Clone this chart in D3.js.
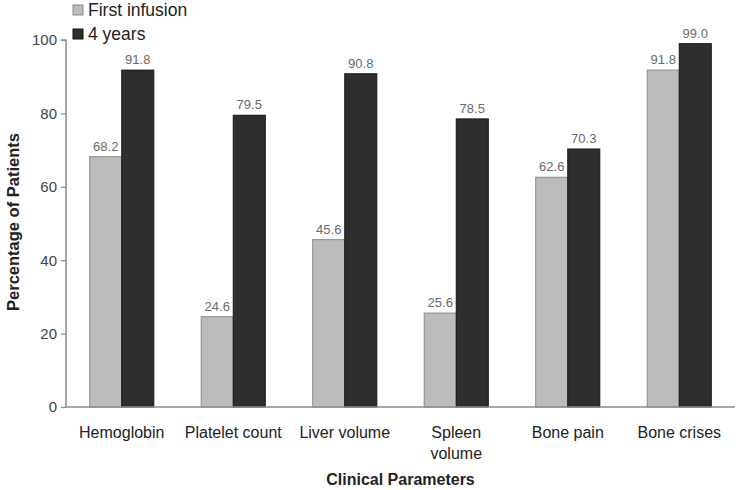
<!DOCTYPE html>
<html><head><meta charset="utf-8">
<script src="https://cdn.jsdelivr.net/npm/d3@7"></script>
<style>body{margin:0;background:#fff}svg{display:block;font-family:"Liberation Sans",Arial,sans-serif}</style>
</head><body>
<svg id="c" width="743" height="490"></svg>
<script>
const categories = [["Hemoglobin"],["Platelet count"],["Liver volume"],["Spleen","volume"],["Bone pain"],["Bone crises"]];
const seriesNames = ["First infusion","4 years"];
const firstInfusion = [68.2,24.6,45.6,25.6,62.6,91.8];
const fourYears = [91.8,79.5,90.8,78.5,70.3,99.0];
const yTicks = [0,20,40,60,80,100];
const colors = ["#bcbcbc","#2e2e2e"];
const strokes = ["#8a8a8a","#151515"];

const svg = d3.select("#c");
const catKeys = categories.map(c=>c.join(" "));
const x0 = d3.scaleBand().domain(catKeys).range([66,735]).padding(0);
const x1 = d3.scaleBand().domain(seriesNames).range([0,x0.bandwidth()]).paddingInner(0).paddingOuter(0.74);
const y = d3.scaleLinear().domain([0,100]).range([407,40]);

const yAxis = svg.append("g").attr("transform","translate(66,0)")
  .call(d3.axisLeft(y).tickValues(yTicks).tickSize(5).tickPadding(4).tickFormat(d3.format("d")));
yAxis.select(".domain").attr("stroke","#8c8c8c").attr("stroke-width",1.5).attr("d","M-5,40H0V407");
yAxis.selectAll(".tick line").attr("stroke","#8c8c8c").attr("stroke-width",1.2);
yAxis.selectAll(".tick text").attr("font-size",15).attr("fill","#444").attr("font-family","Liberation Sans, Arial, sans-serif");

const data = catKeys.map((k,i)=>({k, vals:[firstInfusion[i],fourYears[i]]}));
const g = svg.selectAll("g.grp").data(data).join("g").attr("class","grp")
  .attr("transform",d=>`translate(${x0(d.k)},0)`);
g.selectAll("rect").data(d=>d.vals.map((v,j)=>({v,s:seriesNames[j],j})))
  .join("rect")
  .attr("x",d=>x1(d.s)).attr("width",x1.bandwidth())
  .attr("y",d=>y(d.v)).attr("height",d=>y(0)-y(d.v))
  .attr("fill",d=>colors[d.j]).attr("stroke",d=>strokes[d.j]).attr("stroke-width",1);
g.selectAll("text.val").data(d=>d.vals.map((v,j)=>({v,s:seriesNames[j],j})))
  .join("text").attr("class","val")
  .attr("x",d=>x1(d.s)+x1.bandwidth()/2).attr("y",d=>y(d.v)-6)
  .attr("text-anchor","middle").attr("font-size",13).attr("fill","#6a6a6a")
  .text(d=>d3.format(".1f")(d.v));

// x axis line
svg.append("line").attr("x1",66).attr("x2",735).attr("y1",y(0)).attr("y2",y(0))
  .attr("stroke","#8c8c8c").attr("stroke-width",1.5);

// category labels
const cl = svg.selectAll("text.cat").data(categories).join("text").attr("class","cat")
  .attr("x",(d,i)=>x0(catKeys[i])+x0.bandwidth()/2).attr("y",438)
  .attr("text-anchor","middle").attr("font-size",16).attr("fill","#222");
cl.selectAll("tspan").data(d=>d).join("tspan")
  .attr("x",function(){return this.parentNode.getAttribute("x");})
  .attr("dy",(d,i)=>i?21:0).text(d=>d);

svg.append("text").attr("x",(66+735)/2).attr("y",485).attr("text-anchor","middle")
  .attr("font-size",16).attr("font-weight","bold").attr("fill","#222").text("Clinical Parameters");
svg.append("text").attr("transform","translate(19,222) rotate(-90)").attr("text-anchor","middle")
  .attr("font-size",16.5).attr("font-weight","bold").attr("fill","#222").text("Percentage of Patients");

// legend
const leg = svg.selectAll("g.leg").data(seriesNames).join("g").attr("class","leg")
  .attr("transform",(d,i)=>`translate(73,${10+i*24})`);
leg.append("rect").attr("x",0).attr("y",-5).attr("width",10).attr("height",10)
  .attr("fill",(d,i)=>colors[i]).attr("stroke",(d,i)=>strokes[i]);
leg.append("text").attr("x",15).attr("y",0).attr("dy","0.35em").attr("font-size",17.5).attr("fill","#222").text(d=>d);
</script>
</body></html>
